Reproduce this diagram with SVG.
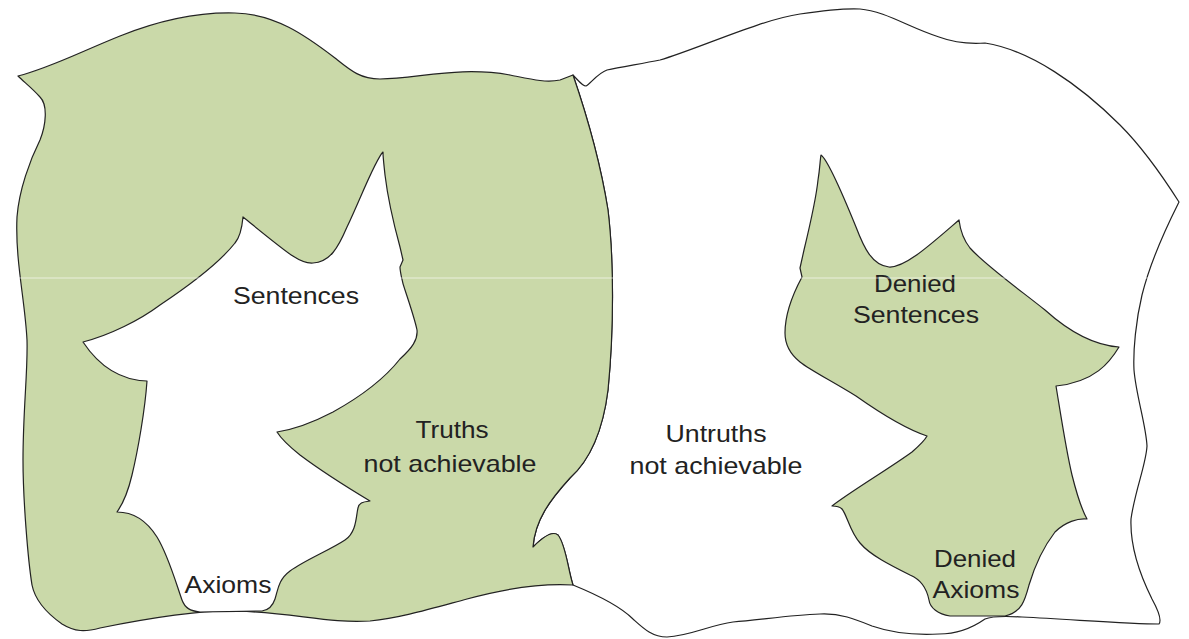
<svg xmlns="http://www.w3.org/2000/svg" width="1189" height="639" viewBox="0 0 1189 639">
<style>
.green{fill:#CAD9A9;stroke:#222;stroke-width:1.2;stroke-linejoin:round}
.white{fill:#FFFFFF;stroke:#222;stroke-width:1.2;stroke-linejoin:round}
.lbl{font-family:"Liberation Sans",Arial,sans-serif;font-size:24px;fill:#222;text-anchor:middle}
</style>
<rect width="1189" height="639" fill="#FFFFFF"/>
<g id="untruths">
<path class="white" d="M573,75 C578,80 582,86 586,86 C590,84 598,73 607,70 C620,67 640,64 660,60 C700,48 760,20 800,14 C820,11 840,8 860,9 C885,11 910,28 939,37 C955,43 970,44 985,43 C1030,50 1080,85 1120,125 C1145,150 1165,180 1179,202 C1170,220 1152,255 1142,295 C1136,320 1133,350 1134,370 C1136,395 1146,425 1147,446 C1146,465 1135,490 1131,519 C1130,545 1140,575 1152,599 C1158,610 1162,620 1159,624 C1130,624 1080,620 1022,617 C1005,616 992,616 985,619 C975,626 960,634 939,634 C920,635 895,634 872,626 C855,619 840,613 820,614 C790,615 760,620 733,622 C710,625 690,636 667,637 C652,637 643,628 633,619 C620,606 600,596 573,585 C568,570 566,545 558,535 C552,530 540,540 533,547 C535,520 550,500 570,478 C590,460 603,430 608,390 C614,330 614,260 608,210 C600,160 585,110 573,75 Z"/>
<text class="lbl" x="716" y="442" textLength="101" lengthAdjust="spacingAndGlyphs">Untruths</text>
<text class="lbl" x="716" y="474" textLength="173" lengthAdjust="spacingAndGlyphs">not achievable</text>
</g>
<g id="truths">
<path class="green" d="M18,76 C50,68 80,52 120,36 C160,20 200,12 235,13 C275,14 305,35 335,58 C350,70 360,79 380,79 C420,78 460,66 510,75 C530,79 545,83 560,80 L573,75 C585,110 600,160 608,210 C614,260 614,330 608,390 C603,430 590,460 570,478 C550,500 535,520 533,547 C540,540 552,530 558,535 C566,545 568,570 573,585 C540,583 500,590 467,599 C430,609 400,618 370,621 C330,624 290,612 233,611 C190,610 130,622 100,628 C85,632 75,632 62,624 C45,612 35,600 32,585 C28,560 23,500 23,460 C23,410 28,370 27,340 C25,300 15,260 17,217 C19,190 30,160 40,140 C46,125 48,105 40,97 C32,88 24,82 18,76 Z"/>
<text class="lbl" x="452" y="438" textLength="73" lengthAdjust="spacingAndGlyphs">Truths</text>
<text class="lbl" x="450" y="472" textLength="173" lengthAdjust="spacingAndGlyphs">not achievable</text>
</g>
<g id="sentences">
<path class="white" d="M383,152 C375,160 360,200 347,227 C338,248 330,262 313,263 C300,264 290,255 243,217 C242,228 240,237 235,243 C220,262 190,285 160,305 C140,320 110,335 83,342 C95,360 115,380 147,381 C145,410 138,450 132,475 C128,492 122,505 117,512 C130,512 145,518 157,537 C168,555 175,580 182,600 C185,608 190,611 200,612 L262,611 C270,610 273,605 275,599 C278,590 278,580 290,571 C305,560 330,550 345,540 C357,532 356,515 358,508 C359,503 362,502 370,501 C355,492 320,470 300,455 C290,447 282,440 277,432 C290,430 310,424 333,412 C360,397 385,378 400,359 C412,348 418,340 417,330 C415,320 410,305 405,290 C402,282 400,270 400,267 L403,260 L400,247 C394,225 388,200 385,175 C384,165 383,158 383,152 Z"/>
<text class="lbl" x="296" y="304" textLength="126" lengthAdjust="spacingAndGlyphs">Sentences</text>
<text class="lbl" x="228" y="593" textLength="87" lengthAdjust="spacingAndGlyphs">Axioms</text>
</g>
<g id="denied">
<path class="green" d="M821,155 C828,160 845,200 856,227 C864,248 872,265 889,267 C905,268 930,245 959,220 C960,228 962,238 970,248 C985,265 1020,290 1045,310 C1065,328 1090,345 1119,347 C1110,362 1095,382 1056,386 C1060,410 1066,450 1072,475 C1077,495 1082,510 1087,519 C1078,518 1065,522 1055,532 C1045,545 1035,565 1029,585 C1025,600 1022,612 1005,616 L950,616 C938,614 930,608 929,600 C927,590 922,580 910,575 C890,565 870,555 860,543 C850,532 847,515 842,509 C840,507 835,506 832,506 C850,492 890,468 912,452 C920,445 925,440 927,436 C915,432 890,420 856,396 C830,380 810,370 800,362 C790,354 785,345 785,333 C785,310 795,290 802,277 L800,268 L804,250 C810,225 816,200 818,180 C820,168 820,160 821,155 Z"/>
<text class="lbl" x="915" y="292" textLength="82" lengthAdjust="spacingAndGlyphs">Denied</text>
<text class="lbl" x="916" y="323" textLength="126" lengthAdjust="spacingAndGlyphs">Sentences</text>
<text class="lbl" x="975" y="567" textLength="82" lengthAdjust="spacingAndGlyphs">Denied</text>
<text class="lbl" x="976" y="598" textLength="87" lengthAdjust="spacingAndGlyphs">Axioms</text>
</g>
<line x1="0" y1="278" x2="1189" y2="278" stroke="#FFFFFF" stroke-width="1" stroke-opacity="0.6"/>
</svg>
